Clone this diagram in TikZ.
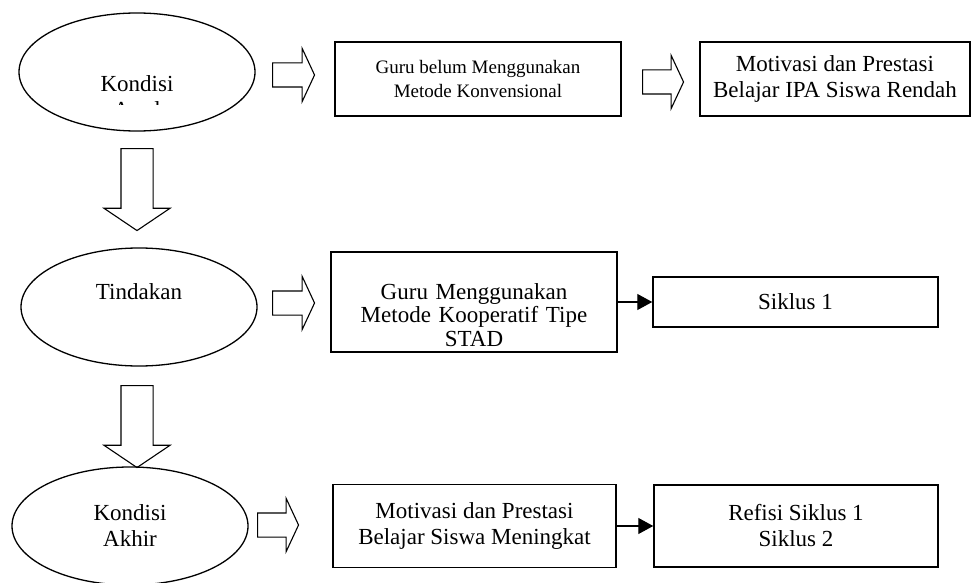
\documentclass[tikz,border=0pt]{standalone}
\usepackage{fontspec}
\setmainfont{Liberation Serif}
\usetikzlibrary{arrows.meta,shapes.geometric,shapes.arrows,calc}
\tikzset{
  pkt stage/.style={
    ellipse,
    draw=black,
    line width=1.3pt,
    minimum width=236pt,
    minimum height=118pt,
    inner sep=0pt,
    align=center,
    font=\fontsize{23}{26}\selectfont
  },
  pkt label/.style={inner sep=0pt,font=\fontsize{23}{26}\selectfont},
  pkt box/.style={
    draw=black,
    line width=1.5pt,
    inner sep=0pt,
    align=center,
    font=\fontsize{23}{26}\selectfont
  },
  pkt small/.style={pkt box,font=\fontsize{19}{24}\selectfont},
  pkt flow/.style={
    single arrow,
    draw=black,
    line width=1.1pt,
    fill=white,
    inner sep=11.5pt,
    text height=0pt,
    text depth=0pt,
    minimum width=0pt,
    single arrow head extend=14.5pt,
    single arrow tip angle=130,
    minimum height=42pt,
    anchor=tail
  },
  pkt down/.style={
    pkt flow,
    shape border rotate=270,
    inner sep=15.5pt,
    single arrow head extend=17pt,
    single arrow tip angle=112,
    minimum height=82pt
  },
  pkt link/.style={-{Triangle[length=15pt,width=16pt]},line width=1.3pt}
}
\begin{document}
\begin{tikzpicture}[x=1pt,y=-1pt]
  \useasboundingbox (0,0) rectangle (974,583);

  % kondisi awal
  \node[pkt stage,text height=40pt,text depth=0pt] (awal) at (137,72) {Kondisi};
  \begin{scope}
    \clip ($(awal.center)+(-60,23)$) rectangle ($(awal.center)+(60,32.5)$);
    \node[pkt label,anchor=base] (awal-sub) at ($(awal.center)+(0,46)$) {Awal};
  \end{scope}
  \node[pkt flow] (awal-arrow) at (272,75) {};
  \node[pkt small,minimum width=286pt,minimum height=74pt] (sebab) at (478,79)
    {Guru belum Menggunakan\\Metode Konvensional};
  \node[pkt flow,minimum height=41pt] (sebab-arrow) at (642,82) {};
  \node[pkt box,minimum width=270pt,minimum height=74pt] (akibat) at (835,79)
    {Motivasi dan Prestasi\\Belajar IPA Siswa Rendah};

  \node[pkt down] (turun-a) at (137,148) {};

  % tindakan
  \node[pkt stage,text height=16pt,text depth=32pt] (tindakan) at (139,307) {Tindakan};
  \node[pkt flow] (tindakan-arrow) at (272,303) {};
  \node[pkt box,font=\fontsize{23}{23.5}\selectfont,text width=286pt,
    text height=47pt,text depth=53pt] (metode) at (474,302)
    {Guru Menggunakan\\Metode Kooperatif Tipe\\STAD};
  \node[pkt box,minimum width=285pt,minimum height=50pt] (siklus) at (795.5,302) {Siklus 1};
  \draw[pkt link] (metode) -- (siklus);

  \node[pkt down] (turun-b) at (137,385) {};

  % kondisi akhir
  \node[pkt stage] (akhir) at (130,526) {Kondisi\\Akhir};
  \node[pkt flow,minimum height=41pt] (akhir-arrow) at (257,525) {};
  \node[pkt box,minimum width=283pt,minimum height=83pt] (hasil) at (474.5,526)
    {Motivasi dan Prestasi\\Belajar Siswa Meningkat};
  \node[pkt box,minimum width=284pt,minimum height=82pt] (refisi) at (796,526)
    {Refisi Siklus 1\\Siklus 2};
  \draw[pkt link] (hasil) -- (refisi);
\end{tikzpicture}
\end{document}
